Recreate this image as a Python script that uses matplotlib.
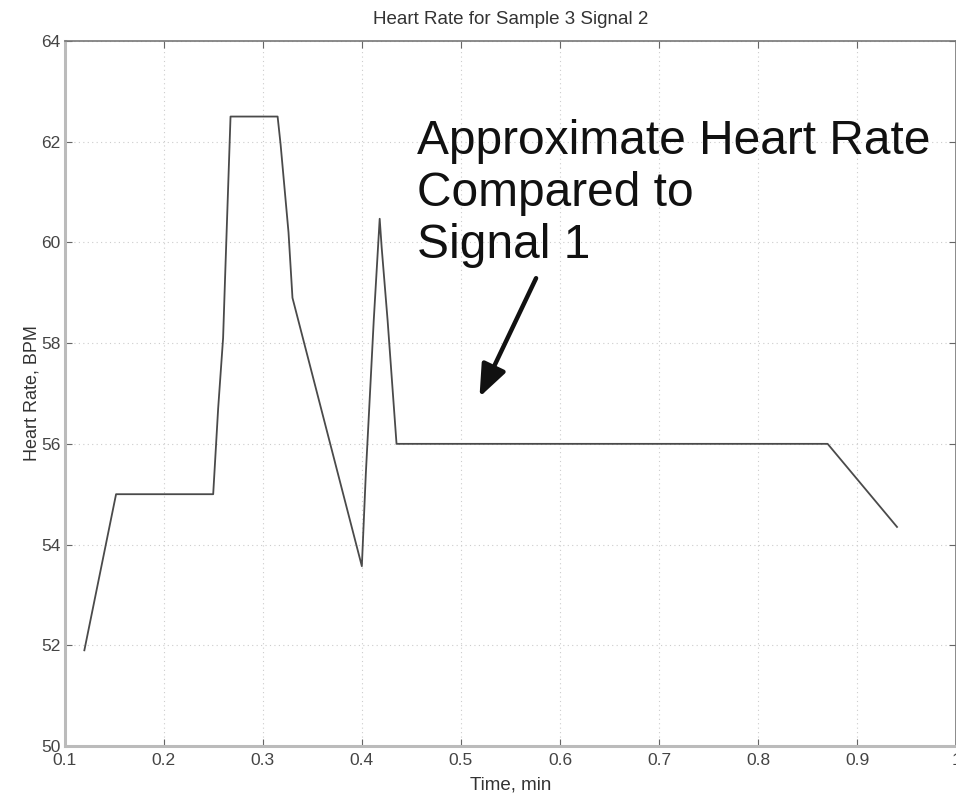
import matplotlib
matplotlib.use("Agg")
import matplotlib.pyplot as plt

# heart rate trace
time_min = [0.12, 0.152, 0.25, 0.255, 0.26, 0.262, 0.2675, 0.315, 0.318, 0.326, 0.33,
            0.40, 0.404, 0.409, 0.412, 0.418, 0.420, 0.426, 0.435, 0.87, 0.94]
heart_rate = [51.9, 55.0, 55.0, 56.7, 58.1, 59.3, 62.5, 62.5, 61.95, 60.2, 58.9,
              53.57, 55.4, 57.3, 58.45, 60.47, 59.9, 58.45, 56.0, 56.0, 54.35]

x_ticks = [0.1, 0.2, 0.3, 0.4, 0.5, 0.6, 0.7, 0.8, 0.9, 1.0]
x_tick_labels = ["0.1", "0.2", "0.3", "0.4", "0.5", "0.6", "0.7", "0.8", "0.9", "1"]
y_ticks = [50, 52, 54, 56, 58, 60, 62, 64]

# where the note and its arrow sit (data units), note y = baseline of last line
note_xy = (0.4553, 59.70)
arrow_from = (0.5758, 59.29)
arrow_to = (0.5187, 56.93)

plt.rcParams['font.family'] = ['Liberation Sans', 'DejaVu Sans']

fig = plt.figure(figsize=(9.56, 7.98), dpi=100)
ax = fig.add_axes([0.0675, 0.0652, 0.9330, 0.8834])

# the trace
ax.plot(time_min, heart_rate, color="#4a4a4a", linewidth=1.3)

ax.set_xlim(0.1, 1.0)
ax.set_ylim(50, 64)
ax.set_xticks(x_ticks)
ax.set_xticklabels(x_tick_labels)
ax.set_yticks(y_ticks)
ax.grid(True, linestyle=(0, (1, 3)), color="#cccccc", linewidth=0.8)
ax.tick_params(direction="in", top=True, right=True, length=5, labelsize=12.5,
               colors="#666666", labelcolor="#444444")
ax.tick_params(axis="x", pad=5)
ax.tick_params(axis="y", pad=3)

# matlab-ish box
for side in ["left", "bottom"]:
    ax.spines[side].set_color("#bbbbbb")
    ax.spines[side].set_linewidth(2.2)
for side in ["top", "right"]:
    ax.spines[side].set_color("#777777")
    ax.spines[side].set_linewidth(1.2)

ax.set_title("Heart Rate for Sample 3 Signal 2", fontsize=13.5, color="#333333", pad=12)
ax.set_xlabel("Time, min", fontsize=13.5, color="#333333", labelpad=6)
ax.set_ylabel("Heart Rate, BPM", fontsize=13, color="#333333", labelpad=0)

# big note and its arrow
ax.text(note_xy[0], note_xy[1], "Approximate Heart Rate\nCompared to\nSignal 1",
        fontsize=34.5, color="#111111", ha="left", va="baseline", linespacing=1.2)
ax.annotate("", xy=arrow_to, xytext=arrow_from,
            arrowprops=dict(arrowstyle="-|>,head_length=0.75,head_width=0.3",
                            color="#111111", lw=3.2, mutation_scale=26,
                            shrinkA=0, shrinkB=0))

fig.savefig("out.png", dpi=100)
